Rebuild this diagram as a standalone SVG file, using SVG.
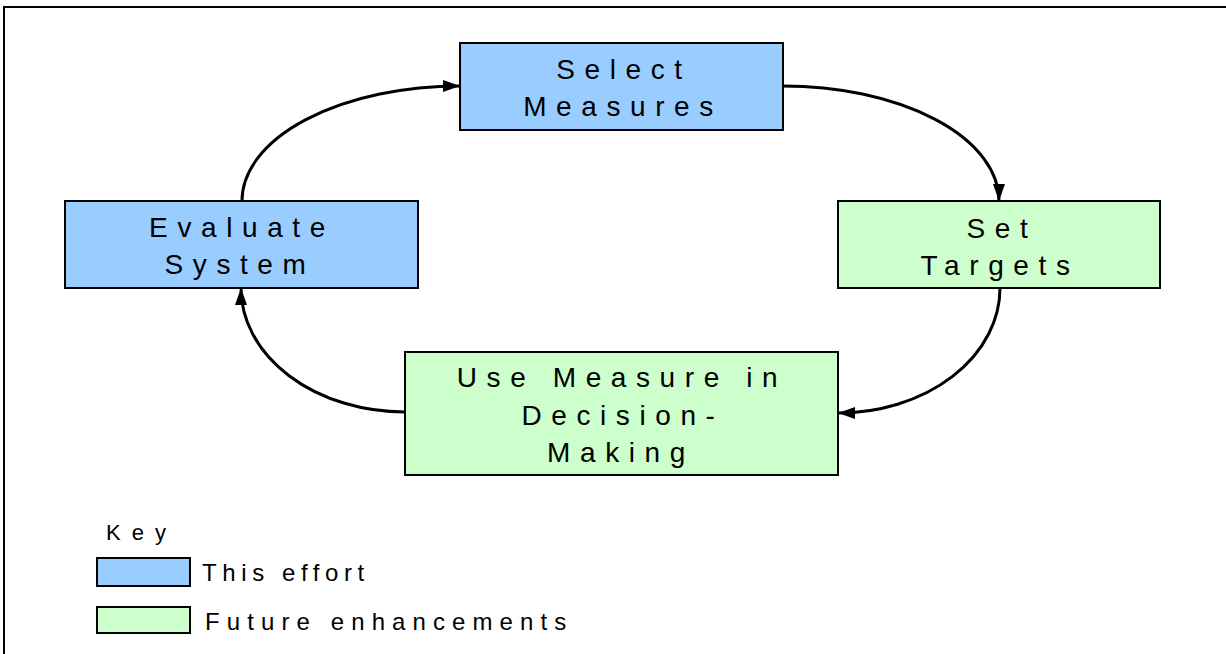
<svg xmlns="http://www.w3.org/2000/svg" width="1226" height="654" viewBox="0 0 1226 654">
<style>
.box{stroke:#000;stroke-width:2}
.blue{fill:#99CCFF}
.green{fill:#CCFFCC}
.lbl{font-family:"Liberation Sans",Arial,sans-serif;font-size:28px;letter-spacing:9.6px;fill:#000;text-anchor:middle}
.key{font-family:"Liberation Sans",Arial,sans-serif;font-size:24px;fill:#000}
.conn{fill:none;stroke:#000;stroke-width:3}
</style>
<defs>
<marker id="arr" markerUnits="userSpaceOnUse" markerWidth="18" markerHeight="12" refX="17" refY="6" orient="auto">
<path d="M0,0 L17,6 L0,12 z" fill="#000"/>
</marker>
</defs>
<rect x="0" y="0" width="1226" height="654" fill="#fff"/>
<rect x="4" y="7" width="1260" height="700" fill="none" stroke="#000" stroke-width="2"/>
<g id="connectors">
<path class="conn" d="M242,201 A218,115 0 0 1 460,86" marker-end="url(#arr)"/>
<path class="conn" d="M783,86 A216,115 0 0 1 999,201" marker-end="url(#arr)"/>
<path class="conn" d="M1000,288 A162,125 0 0 1 838,413" marker-end="url(#arr)"/>
<path class="conn" d="M405,412 A164,124 0 0 1 241,288" marker-end="url(#arr)"/>
</g>
<g id="select-measures">
<rect class="box blue" x="460" y="43" width="323" height="87"/>
<text class="lbl" x="624" y="79">Select</text>
<text class="lbl" x="623" y="116">Measures</text>
</g>
<g id="evaluate-system">
<rect class="box blue" x="65" y="201" width="353" height="87"/>
<text class="lbl" x="242" y="237">Evaluate</text>
<text class="lbl" x="240" y="274">System</text>
</g>
<g id="set-targets">
<rect class="box green" x="838" y="201" width="322" height="87"/>
<text class="lbl" x="1002" y="238">Set</text>
<text class="lbl" x="1000" y="275">Targets</text>
</g>
<g id="use-measure">
<rect class="box green" x="405" y="352" width="433" height="123"/>
<text class="lbl" x="622" y="387">Use Measure in</text>
<text class="lbl" x="623" y="425">Decision-</text>
<text class="lbl" x="621" y="462">Making</text>
</g>
<g id="legend">
<text class="key" x="106" y="540" style="font-size:22px;letter-spacing:11px">Key</text>
<rect class="box blue" x="97" y="558" width="93" height="28"/>
<text class="key" x="202" y="581" style="letter-spacing:5.6px">This effort</text>
<rect class="box green" x="97" y="607" width="93" height="26"/>
<text class="key" x="205" y="630" style="letter-spacing:7.1px">Future enhancements</text>
</g>
</svg>
